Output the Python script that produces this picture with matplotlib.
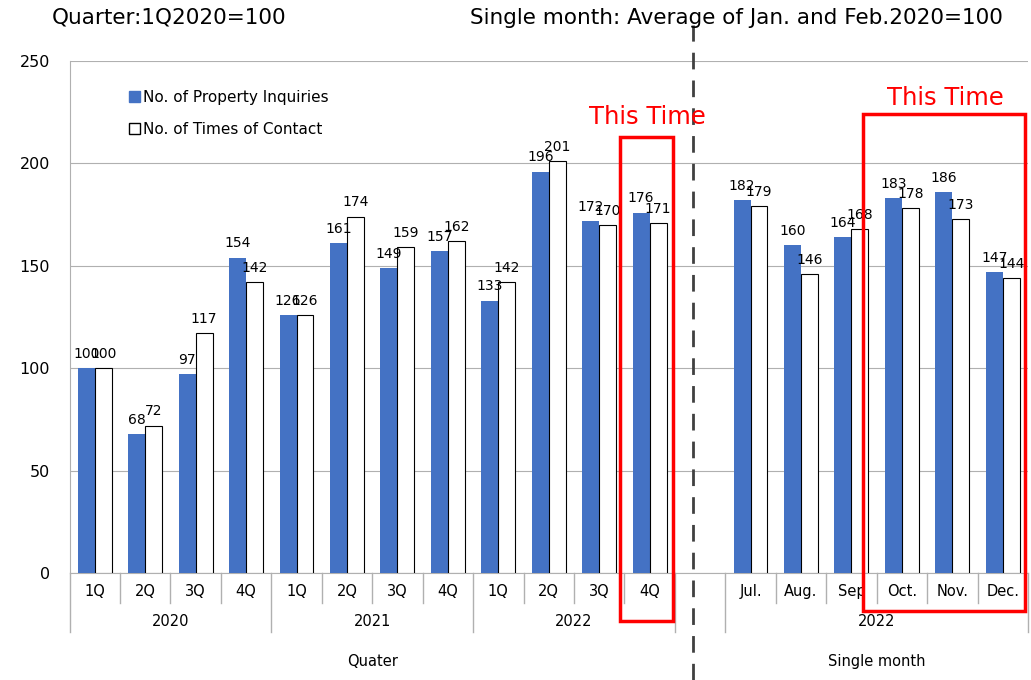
import numpy as np
import matplotlib
matplotlib.use("Agg")
import matplotlib.pyplot as plt
from matplotlib.patches import Patch, Rectangle
from matplotlib.transforms import blended_transform_factory

# data
quarters = ["1Q", "2Q", "3Q", "4Q"] * 3
years = ["2020", "2021", "2022"]
months = ["Jul.", "Aug.", "Sep", "Oct.", "Nov.", "Dec."]
inquiries_q = [100, 68, 97, 154, 126, 161, 149, 157, 133, 196, 172, 176]
contact_q = [100, 72, 117, 142, 126, 174, 159, 162, 142, 201, 170, 171]
inquiries_m = [182, 160, 164, 183, 186, 147]
contact_m = [179, 146, 168, 178, 173, 144]

blue = "#4472C4"
grid_c = "#B0B0B0"

fig = plt.figure(figsize=(10.31, 6.80), dpi=100)
ax_l, ax_w = 69.5, 958.5
ax = fig.add_axes([ax_l / 1031, 1 - 573 / 680, ax_w / 1031, 512 / 680])

# slot positions: 12 quarters, one empty slot, 6 months
xq = np.arange(len(quarters))
xm = np.arange(len(months)) + len(quarters) + 1
xs = np.concatenate([xq, xm])
inq = inquiries_q + inquiries_m
con = contact_q + contact_m
labels = quarters + months

w = 0.336
ax.bar(xs - w / 2, inq, w, color=blue, zorder=3)
ax.bar(xs + w / 2, con, w, color="white", edgecolor="black", linewidth=0.8, zorder=3)

for x, v in zip(xs, inq):
    ax.text(x - w / 2, v + 3.5, str(v), ha="center", va="bottom", fontsize=10, zorder=4)
for x, v in zip(xs, con):
    ax.text(x + w / 2, v + 3.5, str(v), ha="center", va="bottom", fontsize=10, zorder=4)

ax.set_xlim(-0.5, 18.5)
ax.set_ylim(0, 250)
ax.set_yticks(range(0, 251, 50))
ax.tick_params(axis="y", length=0, labelsize=11.5, pad=14)
ax.set_xticks([])
ax.yaxis.grid(True, color=grid_c, linewidth=0.8)
ax.set_axisbelow(True)
for s in ["top", "right"]:
    ax.spines[s].set_visible(False)
ax.spines["left"].set_color(grid_c)
ax.spines["bottom"].set_color(grid_c)

# multi-level category axis
tr = blended_transform_factory(ax.transData, ax.transAxes)
for x, lab in zip(xs, labels):
    ax.text(x, -0.037, lab, transform=tr, ha="center", va="center", fontsize=10.5)
for i, yr in enumerate(years):
    ax.text(i * 4 + 1.5, -0.094, yr, transform=tr, ha="center", va="center", fontsize=10.5)
ax.text(15.5, -0.094, "2022", transform=tr, ha="center", va="center", fontsize=10.5)
ax.text(5.5, -0.172, "Quater", transform=tr, ha="center", va="center", fontsize=10.5)
ax.text(15.5, -0.172, "Single month", transform=tr, ha="center", va="center", fontsize=10.5)

short_sep = [0.5, 1.5, 2.5, 4.5, 5.5, 6.5, 8.5, 9.5, 10.5, 13.5, 14.5, 15.5, 16.5, 17.5]
long_sep = [-0.5, 3.5, 7.5, 11.5, 12.5, 18.5]
for x in short_sep:
    ax.plot([x, x], [0, -0.059], transform=tr, color=grid_c, lw=1, clip_on=False)
for x in long_sep:
    ax.plot([x, x], [0, -0.115], transform=tr, color=grid_c, lw=1, clip_on=False)

# dashed divider
fig.add_artist(plt.Line2D([693 / 1031, 693 / 1031], [0, 1 - 25 / 680],
                          color="#404040", lw=2, linestyle=(0, (6, 4))))

# "This Time" boxes
ax.add_patch(Rectangle(((620 - ax_l) / ax_w, -0.094), 53 / ax_w, 0.945, transform=ax.transAxes,
                       fill=False, edgecolor="red", lw=2.5, clip_on=False, zorder=5))
ax.add_patch(Rectangle(((863 - ax_l) / ax_w, -0.0742), 162 / ax_w, 0.9707, transform=ax.transAxes,
                       fill=False, edgecolor="red", lw=2.5, clip_on=False, zorder=5))
fig.text(647 / 1031, 1 - 117 / 680, "This Time", color="red", fontsize=17.5, ha="center", va="center")
fig.text(945 / 1031, 1 - 98 / 680, "This Time", color="red", fontsize=17.5, ha="center", va="center")

# headers
fig.text(52 / 1031, 1 - 18 / 680, "Quarter:1Q2020=100", fontsize=15.5, ha="left", va="center")
fig.text(1003 / 1031, 1 - 18 / 680, "Single month: Average of Jan. and Feb.2020=100",
         fontsize=15.5, ha="right", va="center")

handles = [Patch(facecolor=blue, edgecolor=blue),
           Patch(facecolor="white", edgecolor="black")]
ax.legend(handles, ["No. of Property Inquiries", "No. of Times of Contact"],
          loc="upper left", bbox_to_anchor=(0.048, 0.97), frameon=False,
          fontsize=11, handlelength=0.7, handleheight=0.7, handletextpad=0.2,
          labelspacing=1.1)

fig.savefig("out.png", dpi=100)
